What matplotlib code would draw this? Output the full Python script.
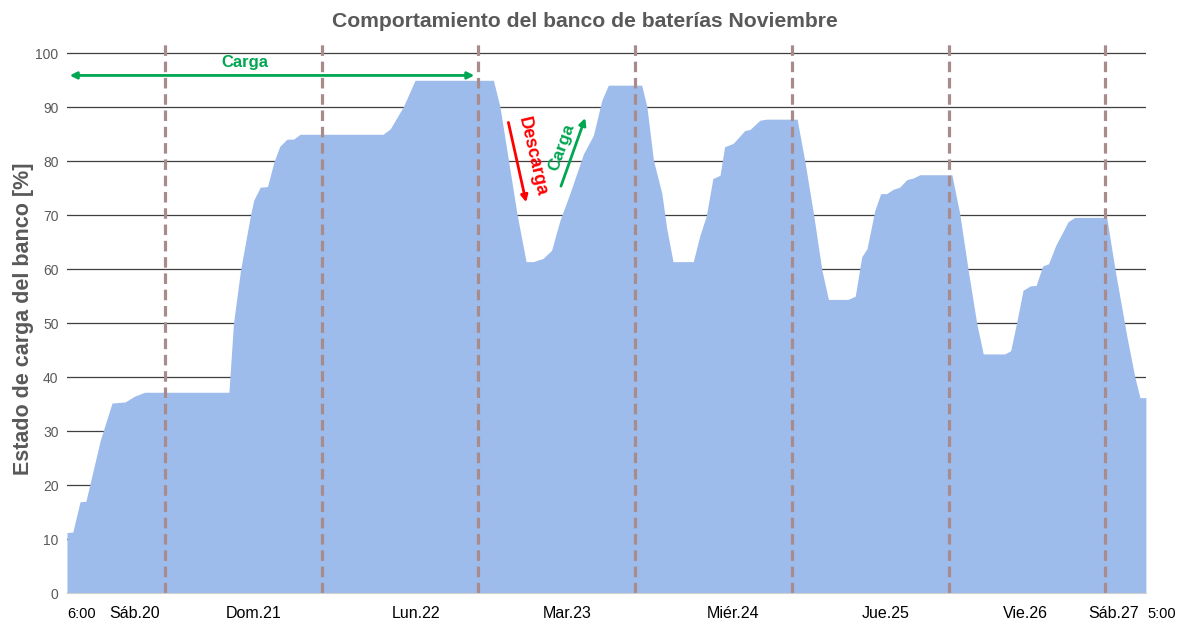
import matplotlib
matplotlib.use("Agg")
from matplotlib import pyplot as plt

plt.rcParams['font.family'] = ['Liberation Sans', 'DejaVu Sans']

# horas desde el sabado 20 a las 6:00 / estado de carga [%]
horas = [0, 0.9, 2.0, 2.9, 5.1, 6.9, 8.9, 10.4, 11.9, 24.8, 25.5, 26.6, 28.1, 28.6,
         29.6, 30.7, 31.7, 32.6, 33.7, 34.7, 35.7, 48.4, 49.5, 51.5, 53.3, 65.3,
         66.3, 67.6, 68.9, 70.3, 71.4, 72.9, 74.2, 75.5, 77.0, 79.1, 80.6, 81.9,
         82.9, 88.0, 88.8, 89.8, 91.1, 91.8, 92.8, 95.9, 96.9, 97.9, 98.9, 100.0,
         100.7, 102.0, 103.8, 104.6, 106.1, 107.1, 111.8, 113.0, 114.3, 115.6,
         116.6, 119.6, 120.7, 121.7, 122.5, 123.7, 124.6, 125.5, 126.5, 127.5,
         128.6, 129.6, 130.6, 135.5, 136.7, 138.0, 139.3, 140.3, 143.6, 144.5,
         145.4, 146.4, 147.5, 148.4, 149.4, 150.3, 151.4, 153.3, 154.3, 159.2,
         160.5, 162.3, 163.5, 164.3, 165.2]
carga = [11.2, 11.3, 16.9, 17.0, 28.3, 35.2, 35.4, 36.5, 37.2, 37.2, 50.0, 60.0,
         70.0, 72.8, 75.2, 75.3, 79.9, 82.8, 84.1, 84.1, 85.0, 85.0, 86.0, 90.1,
         95.0, 95.0, 90.1, 80.2, 70.3, 61.4, 61.4, 62.0, 63.5, 69.1, 74.0, 81.4,
         84.8, 91.3, 94.1, 94.1, 90.1, 80.2, 74.0, 67.8, 61.4, 61.4, 66.2, 69.9,
         76.8, 77.4, 82.7, 83.3, 85.7, 85.9, 87.6, 87.8, 87.8, 79.9, 70.3, 59.8,
         54.4, 54.4, 55.0, 62.3, 63.8, 70.9, 74.0, 74.0, 74.8, 75.2, 76.6, 76.9,
         77.5, 77.5, 70.3, 59.8, 50.0, 44.3, 44.3, 44.9, 50.0, 56.1, 56.9, 57.0,
         60.6, 61.0, 64.4, 68.8, 69.6, 69.6, 59.8, 47.5, 40.1, 36.2, 36.2]

# cambios de dia (lineas discontinuas)
cortes = [15, 39, 63, 87, 111, 135, 159]

etiquetas = ['6:00', 'Sáb.20', 'Dom.21', 'Lun.22', 'Mar.23', 'Miér.24',
             'Jue.25', 'Vie.26', 'Sáb.27', '5:00']
pos_etiquetas = [2.3, 10.4, 28.6, 53.4, 76.6, 102.0, 125.4, 146.8, 160.2, 167.6]

verde = '#00a651'
gris = '#595959'

fig = plt.figure(figsize=(11.83, 6.28), dpi=100)
ax = fig.add_axes([0.0566, 0.0557, 0.912, 0.874])

ax.fill_between(horas, carga, 0, color='#9dbbeb', lw=0, zorder=2)
for c in cortes:
    ax.axvline(c, color='#a88c8c', lw=2.3, dashes=(3.3, 1.8), zorder=3)

ax.set_xlim(0, 165.2)
ax.set_ylim(0, 101.7)
ax.set_yticks(range(0, 101, 10))
ax.yaxis.grid(True, color='#3f3f3f', lw=0.9, zorder=0)
ax.set_axisbelow(True)
ax.set_xticks([])
for s in ['left', 'right', 'top']:
    ax.spines[s].set_visible(False)
ax.spines['bottom'].set_color('#d0d0d0')
ax.spines['bottom'].set_zorder(4)
ax.tick_params(axis='y', length=0, labelsize=10, labelcolor=gris, pad=6)

for x, t in zip(pos_etiquetas, etiquetas):
    small = t in ('6:00', '5:00')
    ax.text(x, -0.038, t, transform=ax.get_xaxis_transform(), ha='center', va='center',
            fontsize=10.5 if small else 11.5, color='black', clip_on=False)

ax.set_ylabel('Estado de carga del banco [%]', fontsize=15.5, fontweight='bold',
              color=gris)
ax.yaxis.set_label_coords(-0.031, 0.5)
fig.text(0.494, 0.966, 'Comportamiento del banco de baterías Noviembre', ha='center',
         va='center', fontsize=15.2, fontweight='bold', color=gris)

# anotaciones
ax.annotate('', xy=(0, 95.9), xytext=(62.8, 95.9),
            arrowprops=dict(arrowstyle='<|-|>', color=verde, lw=2, mutation_scale=10),
            zorder=5)
ax.text(27.3, 98.3, 'Carga', color=verde, fontsize=12, fontweight='bold',
        ha='center', va='center', zorder=5)

ax.annotate('', xy=(70.4, 71.9), xytext=(67.5, 87.7),
            arrowprops=dict(arrowstyle='-|>', color='#ff0000', lw=2, mutation_scale=10),
            zorder=5)
ax.text(71.3, 80.8, 'Descarga', color='#ff0000', fontsize=13, fontweight='bold',
        ha='center', va='center', rotation=-77, zorder=5)

ax.annotate('', xy=(79.5, 88.5), xytext=(75.5, 74.9),
            arrowprops=dict(arrowstyle='-|>', color=verde, lw=2, mutation_scale=10),
            zorder=5)
ax.text(75.7, 82.6, 'Carga', color=verde, fontsize=12.5, fontweight='bold',
        ha='center', va='center', rotation=70, zorder=5)

plt.savefig('out.png', dpi=100)
